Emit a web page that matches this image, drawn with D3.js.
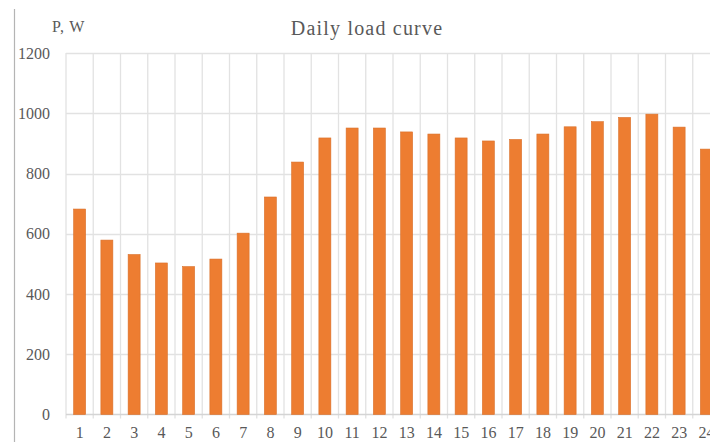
<!DOCTYPE html>
<html>
<head>
<meta charset="utf-8">
<script src="https://cdn.jsdelivr.net/npm/d3@7"></script>
<style>
  html, body { margin: 0; padding: 0; background: #fff; }
  svg { display: block; font-family: "Liberation Serif", "DejaVu Serif", serif; }
  .tick-label { fill: #595959; font-size: 16px; }
</style>
</head>
<body>
<div id="chart"></div>
<script>
// Daily load curve — hourly power demand, bars per hour.

const hours = d3.range(1, 25);
const loadW = [682, 579, 531, 503, 491, 516, 602, 722, 838, 918, 951, 951,
               938, 931, 918, 908, 913, 931, 955, 972, 986, 997, 954, 881];
const yTicks = [0, 200, 400, 600, 800, 1000, 1200];
const titleText = "Daily load curve";
const yUnit = "P, W";

const W = 710, H = 442;
const m = { top: 53, left: 66, bottom: 27 };
const step = 27.25;

const svg = d3.select("#chart").append("svg")
  .attr("width", W).attr("height", H);

const x = d3.scaleBand().domain(hours)
  .range([m.left, m.left + hours.length * step]).padding(0);
const y = d3.scaleLinear().domain([0, 1200]).range([H - m.bottom - 0.5, m.top]);

// --- left border of the chart area (cropped frame) ---
svg.append("line")
  .attr("x1", 14.5).attr("x2", 14.5).attr("y1", 9).attr("y2", H)
  .attr("stroke", "#b4b4b4").attr("stroke-width", 1.2);

// --- horizontal gridlines ---
svg.append("g").selectAll("line").data(yTicks.slice(1)).enter().append("line")
  .attr("x1", m.left).attr("x2", W)
  .attr("y1", (d) => Math.round(y(d)) + 0.5).attr("y2", (d) => Math.round(y(d)) + 0.5)
  .attr("stroke", "#e2e2e2").attr("stroke-width", 1.3);

// --- vertical gridlines at category boundaries ---
const bounds = hours.map((h) => x(h)).concat([x(24) + x.step()]);
svg.append("g").selectAll("line").data(bounds).enter().append("line")
  .attr("x1", (d) => d).attr("x2", (d) => d)
  .attr("y1", y(1200)).attr("y2", y(0) + 4)
  .attr("stroke", "#e2e2e2").attr("stroke-width", 1.3);

// --- x axis baseline ---
svg.append("line")
  .attr("x1", m.left).attr("x2", W)
  .attr("y1", y(0)).attr("y2", y(0))
  .attr("stroke", "#d4d4d4").attr("stroke-width", 1.3);

// --- bars ---
const barW = x.bandwidth() * 0.44;
svg.append("g").selectAll("rect").data(loadW).enter().append("rect")
  .attr("x", (d, i) => x(hours[i]) + (x.bandwidth() - barW) / 2)
  .attr("width", barW)
  .attr("y", (d) => y(d))
  .attr("height", (d) => y(0) - y(d))
  .attr("fill", "#ED7D31")
  .attr("stroke", "#d9702a").attr("stroke-width", 0.6);

// --- y tick labels ---
svg.append("g").selectAll("text").data(yTicks).enter().append("text")
  .attr("class", "tick-label")
  .attr("x", 50).attr("y", (d) => y(d)).attr("dy", "0.35em")
  .attr("text-anchor", "end")
  .text((d) => d);

// --- x tick labels (last one runs off the right edge, as in the source) ---
svg.append("g").selectAll("text").data(hours).enter().append("text")
  .attr("class", "tick-label")
  .attr("x", (d) => x(d) + x.bandwidth() / 2).attr("y", 438)
  .attr("text-anchor", "middle")
  .text((d) => d);

// --- title and unit ---
svg.append("text")
  .attr("x", 367).attr("y", 35).attr("text-anchor", "middle")
  .attr("fill", "#595959").attr("font-size", 20).attr("letter-spacing", 1.2)
  .text(titleText);

svg.append("text")
  .attr("x", 52).attr("y", 32)
  .attr("fill", "#595959").attr("font-size", 16).attr("letter-spacing", 0.8)
  .text(yUnit);
</script>
</body>
</html>
